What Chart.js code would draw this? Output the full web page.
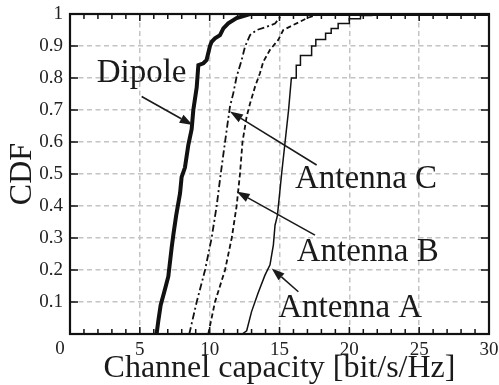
<!DOCTYPE html>
<html>
<head>
<meta charset="utf-8">
<script src="https://cdn.jsdelivr.net/npm/chart.js@4/dist/chart.umd.min.js"></script>
<style>
  html, body { margin: 0; padding: 0; background: #fff; }
  #wrap { width: 499px; height: 385px; }
</style>
</head>
<body>
<div id="wrap"><canvas id="cdf" width="499" height="385"></canvas></div>
<script>
// Channel capacity samples [bit/s/Hz] and their empirical CDF values
const dipoleCap = [6.2, 6.32, 6.49, 6.8, 7.04, 7.28, 7.4, 7.6, 7.88, 7.99, 8.23, 8.47, 8.71, 8.83, 9.07, 9.19, 9.55, 9.78, 10.02, 10.14, 10.38, 10.74, 10.98, 11.33, 11.93, 12.89, 30];
const dipoleCdf = [0, 0.04, 0.09, 0.14, 0.18, 0.27, 0.31, 0.37, 0.44, 0.49, 0.52, 0.59, 0.64, 0.7, 0.77, 0.84, 0.846, 0.856, 0.9, 0.913, 0.924, 0.934, 0.955, 0.971, 0.987, 1, 1];

const antCCap = [8.54, 9.07, 9.67, 10.14, 10.5, 10.79, 11.1, 11.45, 11.69, 11.93, 12.29, 12.53, 12.89, 13.37, 14.08, 14.68, 15.03, 15.27, 30];
const antCCdf = [0, 0.1, 0.2, 0.3, 0.4, 0.5, 0.6, 0.71, 0.752, 0.804, 0.856, 0.898, 0.934, 0.95, 0.96, 0.97, 0.99, 1, 1];

const antBCap = [9.9, 10.38, 11.1, 11.58, 11.93, 12.17, 12.35, 12.65, 12.89, 13.25, 13.6, 13.84, 14.32, 14.91, 15.27, 15.99, 16.47, 16.95, 17.66, 18.6, 30];
const antBCdf = [0, 0.1, 0.2, 0.3, 0.4, 0.5, 0.6, 0.68, 0.72, 0.773, 0.815, 0.851, 0.888, 0.919, 0.95, 0.966, 0.976, 0.987, 0.997, 1, 1];

const antACap = [12.33, 12.65, 13.0, 13.48, 13.96, 14.32, 14.44, 14.56, 14.68, 14.85, 15.15, 15.4, 15.65, 15.85, 16.2, 16.2, 16.5, 16.5, 17.3, 17.3, 17.6, 17.6, 18.3, 18.3, 18.7, 18.7, 19.2, 19.2, 20.0, 20.0, 20.8, 20.8, 21.6, 21.6, 30];
const antACdf = [0, 0.01, 0.07, 0.13, 0.184, 0.216, 0.247, 0.278, 0.34, 0.37, 0.5, 0.6, 0.7, 0.8, 0.8, 0.84, 0.84, 0.87, 0.87, 0.9, 0.9, 0.92, 0.92, 0.94, 0.94, 0.955, 0.955, 0.97, 0.97, 0.985, 0.985, 0.995, 0.995, 1, 1];

// Axis tick labels
const capacityTickLabels = ['0', '5', '10', '15', '20', '25', '30'];
const cdfTickLabels = ['', '0.1', '0.2', '0.3', '0.4', '0.5', '0.6', '0.7', '0.8', '0.9', '1'];

const toPoints = (xs, ys) => xs.map((x, i) => ({ x, y: ys[i] }));

// Callout labels with arrows, anchored in data units
const callouts = [
  { text: 'Dipole',    x: 1.91,  y: 0.788, from: [5.13, 0.742],  to: [8.78, 0.653] },
  { text: 'Antenna C', x: 16.11, y: 0.455, from: [17.66, 0.528], to: [11.45, 0.695] },
  { text: 'Antenna B', x: 16.23, y: 0.229, from: [17.54, 0.309], to: [11.93, 0.445] },
  { text: 'Antenna A', x: 14.91, y: 0.054, from: [16.35, 0.132], to: [14.44, 0.205] }
];

const SERIF = '"Liberation Serif", "Times New Roman", serif';

const framePlugin = {
  id: 'frameTicksCallouts',
  afterDatasetsDraw(chart) {
    const { ctx, chartArea: a, scales: { x, y } } = chart;
    ctx.save();
    // inward tick marks
    ctx.strokeStyle = '#111';
    ctx.lineWidth = 1.5;
    ctx.beginPath();
    for (let v = 0; v <= 30; v++) {
      const px = x.getPixelForValue(v);
      const len = v % 5 === 0 ? 7 : 5;
      ctx.moveTo(px, a.bottom); ctx.lineTo(px, a.bottom - len);
      ctx.moveTo(px, a.top); ctx.lineTo(px, a.top + len);
    }
    for (let k = 0; k <= 10; k++) {
      const py = y.getPixelForValue(k / 10);
      ctx.moveTo(a.left, py); ctx.lineTo(a.left + 8, py);
      ctx.moveTo(a.right, py); ctx.lineTo(a.right - 8, py);
    }
    ctx.stroke();
    // frame
    ctx.lineWidth = 2.2;
    ctx.strokeRect(a.left, a.top, a.right - a.left, a.bottom - a.top);

    // shared origin label
    ctx.fillStyle = '#222';
    ctx.font = '19px ' + SERIF;
    ctx.textAlign = 'center';
    ctx.textBaseline = 'top';
    ctx.fillText('0', x.getPixelForValue(0) - 10, a.bottom + 6);

    // callouts
    ctx.font = '33px ' + SERIF;
    ctx.textAlign = 'left';
    ctx.textBaseline = 'alphabetic';
    ctx.fillStyle = '#1a1a1a';
    ctx.strokeStyle = '#1a1a1a';
    callouts.forEach(c => {
      ctx.fillText(c.text, x.getPixelForValue(c.x), y.getPixelForValue(c.y));
      const x0 = x.getPixelForValue(c.from[0]), y0 = y.getPixelForValue(c.from[1]);
      const x1 = x.getPixelForValue(c.to[0]), y1 = y.getPixelForValue(c.to[1]);
      const ang = Math.atan2(y1 - y0, x1 - x0);
      const hl = 13, hw = 4.5;
      const bx = x1 - hl * Math.cos(ang), by = y1 - hl * Math.sin(ang);
      ctx.lineWidth = 1.6;
      ctx.beginPath();
      ctx.moveTo(x0, y0); ctx.lineTo(bx, by);
      ctx.stroke();
      ctx.beginPath();
      ctx.moveTo(x1, y1);
      ctx.lineTo(bx + hw * Math.sin(ang), by - hw * Math.cos(ang));
      ctx.lineTo(bx - hw * Math.sin(ang), by + hw * Math.cos(ang));
      ctx.closePath();
      ctx.fill();
    });
    ctx.restore();
  }
};

const lineSet = (label, xs, ys, width, dash) => ({
  label,
  data: toPoints(xs, ys),
  borderColor: '#111',
  borderWidth: width,
  borderDash: dash,
  pointRadius: 0,
  tension: 0,
  fill: false
});

new Chart(document.getElementById('cdf'), {
  type: 'line',
  data: {
    datasets: [
      lineSet('Antenna A', antACap, antACdf, 1.5, []),
      lineSet('Antenna B', antBCap, antBCdf, 1.8, [5, 3]),
      lineSet('Antenna C', antCCap, antCCdf, 1.8, [7, 3, 2, 3]),
      lineSet('Dipole', dipoleCap, dipoleCdf, 4, [])
    ]
  },
  options: {
    responsive: false,
    animation: false,
    events: [],
    layout: { padding: { top: 14, right: 10, left: 0, bottom: 0 } },
    plugins: { legend: { display: false }, tooltip: { enabled: false } },
    scales: {
      x: {
        type: 'linear',
        min: 0, max: 30,
        afterFit: s => { s.height = 51; s.paddingLeft = 0; s.paddingRight = 0; },
        ticks: {
          stepSize: 5,
          padding: 5,
          color: '#222',
          font: { family: SERIF, size: 19 },
          callback: (v, i) => (i === 0 ? '' : capacityTickLabels[i])
        },
        grid: { color: '#c4c4c4', lineWidth: 1.5, drawTicks: false },
        border: { display: false, dash: [5, 3.5] },
        title: {
          display: true,
          text: 'Channel capacity [bit/s/Hz]',
          color: '#1a1a1a',
          font: { family: SERIF, size: 32, lineHeight: 1 },
          padding: { top: 0, bottom: 0 }
        }
      },
      y: {
        type: 'linear',
        min: 0, max: 1,
        afterFit: s => { s.width = 70; s.paddingTop = 0; s.paddingBottom = 0; },
        ticks: {
          stepSize: 0.1,
          padding: 7,
          color: '#222',
          font: { family: SERIF, size: 19 },
          callback: (v, i) => cdfTickLabels[i]
        },
        grid: { color: '#c4c4c4', lineWidth: 1.5, drawTicks: false },
        border: { display: false, dash: [5, 3.5] },
        title: {
          display: true,
          text: 'CDF',
          color: '#1a1a1a',
          font: { family: SERIF, size: 32, lineHeight: 1 },
          padding: { top: 7, bottom: 0 }
        }
      }
    }
  },
  plugins: [framePlugin]
});
</script>
</body>
</html>
